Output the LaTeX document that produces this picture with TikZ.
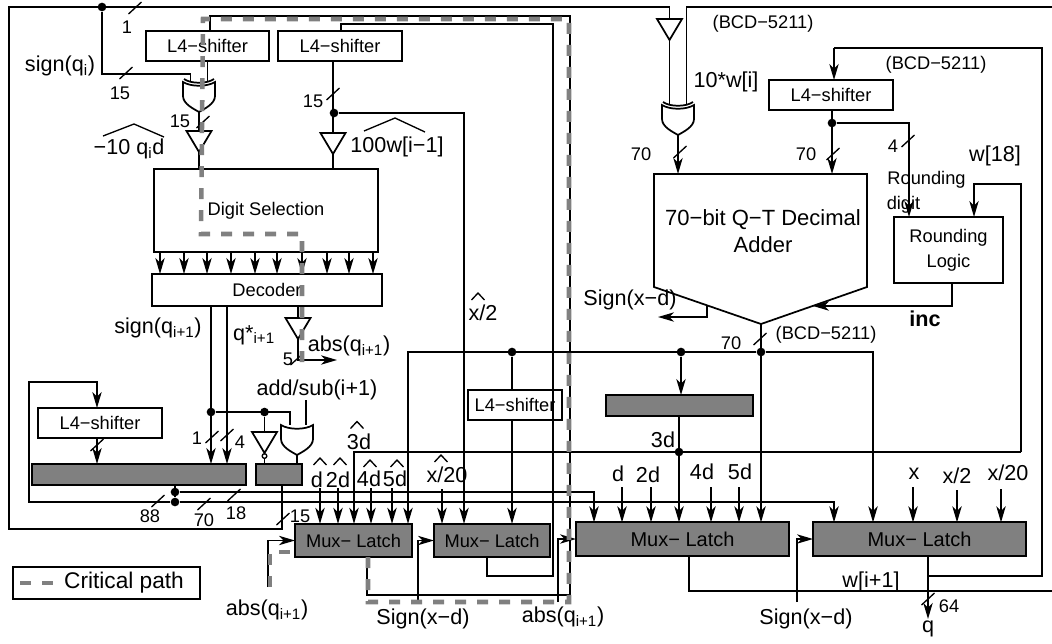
\documentclass[tikz,border=0pt]{standalone}
\usepackage{fontspec}
\setmainfont{Liberation Sans}
\usetikzlibrary{
    arrows.meta
}
\tikzset{
    >={Stealth[length=12pt,width=7pt,inset=3.5pt]},
    wire/.style={line width=1.3pt},
    arrowwire/.style={wire, ->},
    thinwire/.style={line width=1pt},
    critical/.style={line width=3.4pt, draw=critpath, dash pattern=on 8.25pt off 8.25pt},
    lbl/.style={font=\fontsize{16.2}{20}\selectfont, inner sep=0pt},
    tag/.style={font=\fontsize{13.7}{18.75}\selectfont, inner sep=0pt},
    wbox/.style={draw, wire, outer sep=0pt, inner sep=0pt, align=center,
        font=\fontsize{13.7}{18.75}\selectfont},
    gbar/.style={wbox, fill=critpath},
    latch/.style={gbar, minimum height=25pt},
    jdot/.style={circle, fill=black, inner sep=0pt, minimum size=6.5pt},
    buffer/.pic={
        \coordinate (-in)  at (0,0);
        \coordinate (-out) at (0,21);
        \draw[wire] (-12.5,0) -- (12.5,0) -- (0,21) -- cycle;
    },
    orgate/.pic={
        \coordinate (-ina) at (-7,0);
        \coordinate (-inb) at (9,0);
        \coordinate (-out) at (0,30);
        \draw[wire] (-16,0) -- (-16,14) .. controls (-16,22) and (-5,27) .. (0,30)
            .. controls (5,27) and (16,22) .. (16,14) -- (16,0)
            .. controls (8,5) and (-8,5) .. (-16,0) -- cycle;
    },
    xorgate/.pic={
        \coordinate (-ina) at (-8.5,0);
        \coordinate (-inb) at (8.5,0);
        \coordinate (-out) at (0,30);
        \draw[wire] (-16,0) -- (-16,14) .. controls (-16,22) and (-5,27) .. (0,30)
            .. controls (5,27) and (16,22) .. (16,14) -- (16,0)
            .. controls (8,5) and (-8,5) .. (-16,0) -- cycle;
        \draw[wire] (-15,-3) .. controls (-8,2) and (8,2) .. (15,-3);
    }
}
\definecolor{critpath}{HTML}{808080}

\begin{document}
\begin{tikzpicture}[x=0.75pt, y=-0.75pt]

    \useasboundingbox (0,0) rectangle (1052,643);

    % Blocks
    \node[wbox, minimum width=92.25pt, minimum height=22.5pt]  (lshiftA) at (207.5,46)  {L4−shifter};
    \node[wbox, minimum width=93pt, minimum height=22.5pt]     (lshiftB) at (340,46)    {L4−shifter};
    \node[wbox, minimum width=70pt, minimum height=22.5pt]     (lshiftC) at (515,405)   {L4−shifter};
    \node[wbox, minimum width=93pt, minimum height=22.5pt]     (lshiftD) at (100,423)   {L4−shifter};
    \node[wbox, minimum width=93pt, minimum height=22.5pt]     (lshiftE) at (831,95)    {L4−shifter};
    \node[wbox, minimum width=168pt, minimum height=62.25pt]   (digitsel) at (266,210.5) {Digit Selection};
    \node[wbox, minimum width=172.5pt, minimum height=24pt]    (decoder) at (267,290)   {Decoder};
    \node[wbox, minimum width=81.75pt, minimum height=49.5pt]  (roundlogic) at (948.5,250) {Rounding\\Logic};

    \node[gbar, minimum width=160.5pt, minimum height=15.75pt] (barA) at (139,474.5)   {};
    \node[gbar, minimum width=34.5pt, minimum height=15.75pt]  (barB) at (279,474.5)   {};
    \node[gbar, minimum width=110.25pt, minimum height=15.75pt] (barC) at (679.5,405.5) {};

    \node[latch, minimum width=87.75pt]  (latchA) at (353.5,540.5) {Mux− Latch};
    \node[latch, minimum width=87pt]     (latchB) at (492,540.5)   {Mux− Latch};
    \node[latch, minimum width=159.75pt, font=\fontsize{15}{18}\selectfont] (latchC) at (682.5,539) {Mux− Latch};
    \node[latch, minimum width=159.75pt, font=\fontsize{15}{18}\selectfont] (latchD) at (919.5,539) {Mux− Latch};

    % Adder
    \coordinate (adderc) at (761,324);
    \draw[wire] (654,174) -- (867,174) -- (867,287) -- (adderc) -- (654,287) -- cycle;
    \node[lbl, align=center, font=\fontsize{16.5}{20}\selectfont] (addertxt) at (763,231) {70−bit Q−T Decimal\\Adder};

    % Gates
    \pic (bufA) at (199,131) {buffer};
    \pic (bufB) at (333,133) {buffer};
    \pic (bufC) at (298,318) {buffer};
    \pic (bufD) at (669.5,19) {buffer};
    \pic (bufE) at (264.5,432) {buffer};
    \pic (xorA) at (199,82)  {xorgate};
    \pic (xorB) at (678,105) {xorgate};
    \pic (orA)  at (297,425) {orgate};
    \node[circle, draw, thinwire, inner sep=0pt, minimum size=3.5pt] (invdot) at (264.5,456) {};

    % Junctions
    \node[jdot] (dotsign) at (102,7)   {};
    \node[jdot] (dotB)    at (334,113) {};
    \node[jdot] (dotE)    at (832,123) {};
    \node[jdot] (dotO)    at (761,352) {};
    \node[jdot] (dotL)    at (512,352) {};
    \node[jdot] (dotG)    at (681,352) {};
    \node[jdot] (dotT)    at (679,452) {};
    \node[jdot] (dotS)    at (211,412) {};
    \node[jdot] (dotI)    at (264.5,412) {};
    \node[jdot] (dotU)    at (175,492) {};
    \node[jdot] (dotW)    at (175,502) {};

    % Loop and top wires
    \draw[wire] (barB.south -| 282,0) |- (9,529) |- (bufD-in |- 0,7) -- (bufD-in);
    \draw[wire] (bufD-out) -- (xorB-ina);
    \draw[wire] (xorB-inb) -- (xorB-inb |- 0,7) -- (1052,7);
    \draw[wire] (latchC.south -| 689,0) |- (1052,591);
    \draw[wire] (dotsign) |- (190.5,74) -- (xorA-ina);
    \draw[wire] (lshiftA.south -| xorA-inb) -- (xorA-inb);
    \draw[wire] (xorA-out) -- (bufA-in);
    \draw[wire] (bufA-out) -- (digitsel.north -| bufA-out);
    \draw[wire] (lshiftB.south -| bufB-in) -- (bufB-in);
    \draw[wire] (bufB-out) -- (digitsel.north -| bufB-out);
    \draw[arrowwire] (dotB) -- (464,113) -- (latchB.north -| 464,0);
    \draw[wire] (latchB.south -| 487,0) |- (553,576) |- (341,24) -- (lshiftB.north -| 341,0);
    \draw[wire] (latchA.south -| 367,0) |- (570,595) |- (210,16) -- (lshiftA.north -| 210,0);

    % Decoder wires
    \foreach \xtap in {160,184,207,231,255,277,302,327,349,373}
        \draw[arrowwire] (digitsel.south -| \xtap,0) -- (decoder.north -| \xtap,0);
    \draw[arrowwire] (decoder.south -| 211,0) -- (barA.north -| 211,0);
    \draw[arrowwire] (decoder.south -| 227,0) -- (barA.north -| 227,0);
    \draw[wire] (decoder.south -| bufC-in) -- (bufC-in);
    \draw[arrowwire] (bufC-out) |- (337,360);
    \draw[wire] (dotS) -| (orA-ina);
    \draw[wire] (dotI) -- (bufE-in);
    \draw[wire] (bufE-out) -- (invdot);
    \draw[wire] (invdot) -- (barB.north -| invdot);
    \draw[wire] (orA-out) -- (barB.north -| orA-out);
    \draw[wire] (orA-inb |- 0,400) -- (orA-inb);

    % Lower left wires
    \draw[wire] (barA.south -| dotU) -- (dotW);
    \draw[arrowwire] (dotU) -| (latchC.north -| 594,0);
    \draw[arrowwire] (dotW) -| (latchD.north -| 834,0);
    \draw[arrowwire] (dotW) -- (29,502) |- (97,382) -- (lshiftD.north -| 97,0);
    \draw[arrowwire] (lshiftD.south -| 97,0) -- (barA.north -| 97,0);

    % Adder wires
    \draw[wire] (latchD.south -| 928,0) |- (1042,576) |- (834,48);
    \draw[arrowwire] (834,48) -- (lshiftE.north -| 834,0);
    \draw[arrowwire] (latchD.south -| 928,0) -- (928,619);
    \draw[arrowwire] (xorB-out) -- (xorB-out |- 0,174);
    \draw[arrowwire] (lshiftE.south -| dotE) -- (dotE |- 0,174);
    \draw[arrowwire] (dotE) -| (roundlogic.north -| 909,0);
    \draw[arrowwire] (roundlogic.south -| 952,0) |- (813,306);
    \draw[arrowwire] (707,305) |- (658,317);
    \draw[arrowwire] (adderc) -- (latchC.north -| adderc);
    \draw[arrowwire] (dotO) -| (latchA.north -| 408,0);
    \draw[arrowwire] (dotO) -| (latchD.north -| 873,0);
    \draw[wire] (dotL) -- (lshiftC.north -| dotL);
    \draw[arrowwire] (lshiftC.south -| dotL) -- (latchB.north -| dotL);
    \draw[arrowwire] (dotG) -- (barC.north -| dotG);
    \draw[arrowwire] (barC.south -| dotT) -- (latchC.north -| dotT);
    \draw[arrowwire] (1021,452) |- (974,184) -- (roundlogic.north -| 974,0);
    \draw[arrowwire] (1021,452) -| (latchA.north -| 354,0);

    % Latch inputs
    \foreach \lname/\xin/\yin in {latchA/320/488, latchA/338/488, latchA/371/488, latchA/392/488,
        latchB/442/489, latchC/622/487, latchC/651/487, latchC/711/487, latchC/739/487,
        latchD/913/487, latchD/957/490, latchD/1001/489}
        \draw[arrowwire] (\xin,\yin) -- (\lname.north -| \xin,0);
    \draw[arrowwire] (268,587) |- (latchA.west);
    \draw[arrowwire] (418,602) |- (latchB.west);
    \draw[arrowwire] (558,602) |- (latchC.west);
    \draw[arrowwire] (797,602) |- (latchD.west);

    % Bus marks
    \foreach \sx/\sy in {135/8, 126/73, 203/122, 333/94, 680/152, 833/154, 908/141, 760/339,
        297/359, 212/437, 227/435, 97/445, 158/501, 204/504, 234/495, 283/519, 928/599}
        \draw[thinwire] (\sx-6.5,\sy+6) -- (\sx+6.5,\sy-6);

    % Hats
    \foreach \hx/\hy in {320/461.5, 340/461.5, 370/463.5, 397/463.5, 357/425, 478/296.5, 441/458.5}
        \draw[thinwire] (\hx-6.5,\hy+3.5) -- (\hx,\hy-3.5) -- (\hx+6.5,\hy+3.5);
    \draw[thinwire] (103,136) -- (134,124) -- (164,137);
    \draw[thinwire] (364,131) -- (395,118) -- (425,132);

    % Labels
    \node[lbl] (lsigni)   at (60,66)    {sign(q\textsubscript{i})};
    \node[lbl] (lminus)   at (129,149)  {−10 q\textsubscript{i}d};
    \node[lbl] (lhund)    at (397,147)  {100w[i−1]};
    \node[lbl] (lsignn)   at (158,328)  {sign(q\textsubscript{i+1})};
    \node[lbl] (lqstar)   at (254,335)  {q*\textsubscript{i+1}};
    \node[lbl] (labsa)    at (349,346)  {abs(q\textsubscript{i+1})};
    \node[lbl] (laddsub)  at (317,390)  {add/sub(i+1)};
    \node[lbl] (labsb)    at (267,610)  {abs(q\textsubscript{i+1})};
    \node[lbl] (lsgna)    at (423,619)  {Sign(x−d)};
    \node[lbl] (labsc)    at (563,617)  {abs(q\textsubscript{i+1})};
    \node[lbl] (lsgnb)    at (806,619)  {Sign(x−d)};
    \node[lbl] (lsgnc)    at (630,300)  {Sign(x−d)};
    \node[lbl] (lxtwo)    at (483,313)  {x/2};
    \node[lbl] (ltend)    at (726,82)   {10*w[i]};
    \node[lbl] (lwround)  at (995,156)  {w[18]};
    \node[lbl, font=\bfseries\fontsize{16.2}{20}\selectfont] (linc) at (925,319) {inc};
    \node[lbl] (lwnext)   at (871,582)  {w[i+1]};
    \node[lbl] (lq)       at (928,629)  {q};
    \node[lbl] (lhd)      at (317,480)  {d};
    \node[lbl] (lhtwo)    at (338,480)  {2d};
    \node[lbl] (lhthree)  at (359,442)  {3d};
    \node[lbl] (lhfour)   at (369,479)  {4d};
    \node[lbl] (lhfive)   at (395,479)  {5d};
    \node[lbl] (lhxt)     at (447,475)  {x/20};
    \node[lbl] (lthree)   at (663,440)  {3d};
    \node[lbl] (ld)       at (618,474)  {d};
    \node[lbl] (ltwo)     at (648,475)  {2d};
    \node[lbl] (lfour)    at (702,472)  {4d};
    \node[lbl] (lfive)    at (740,472)  {5d};
    \node[lbl] (lx)       at (914,474)  {x};
    \node[lbl] (lxh)      at (957,476)  {x/2};
    \node[lbl] (lxtw)     at (1008,473) {x/20};

    % Widths and formats
    \node[tag] (nA)  at (127,27)  {1};
    \node[tag] (nB)  at (120,93)  {15};
    \node[tag] (nC)  at (180,121) {15};
    \node[tag] (nD)  at (313,101) {15};
    \node[tag] (nE)  at (288,359) {5};
    \node[tag] (nF)  at (197,438) {1};
    \node[tag] (nG)  at (240,442) {4};
    \node[tag] (nH)  at (150,516) {88};
    \node[tag] (nI)  at (204,520) {70};
    \node[tag] (nJ)  at (236,513) {18};
    \node[tag] (nK)  at (300,516) {15};
    \node[tag] (nL)  at (641,154) {70};
    \node[tag] (nM)  at (806,154) {70};
    \node[tag] (nN)  at (893,146) {4};
    \node[tag] (nO)  at (731,343) {70};
    \node[tag] (nP)  at (949,606) {64};
    \node[tag] (fA)  at (763,24)  {(BCD−5211)};
    \node[tag] (fB)  at (936,65)  {(BCD−5211)};
    \node[tag] (fC)  at (826,335) {(BCD−5211)};
    \node[tag] (rA)  at (926.5,180) {Rounding};
    \node[tag] (rB)  at (903.5,205) {digit};

    % Critical path
    \draw[critical] (latchA.south -| 368,0) |- (569,602) |- (203,19) -- (201,234) -| (302,365);
    \draw[critical] (270,587) |- (295,552);

    % Legend
    \node[wbox, minimum width=140.25pt, minimum height=24pt] (legendbox) at (106.5,583) {};
    \node[lbl, font=\fontsize{17}{20}\selectfont] (legendtxt) at (124,583) {Critical path};
    \draw[critical] (20,583) -- (55,583);

\end{tikzpicture}
\end{document}
